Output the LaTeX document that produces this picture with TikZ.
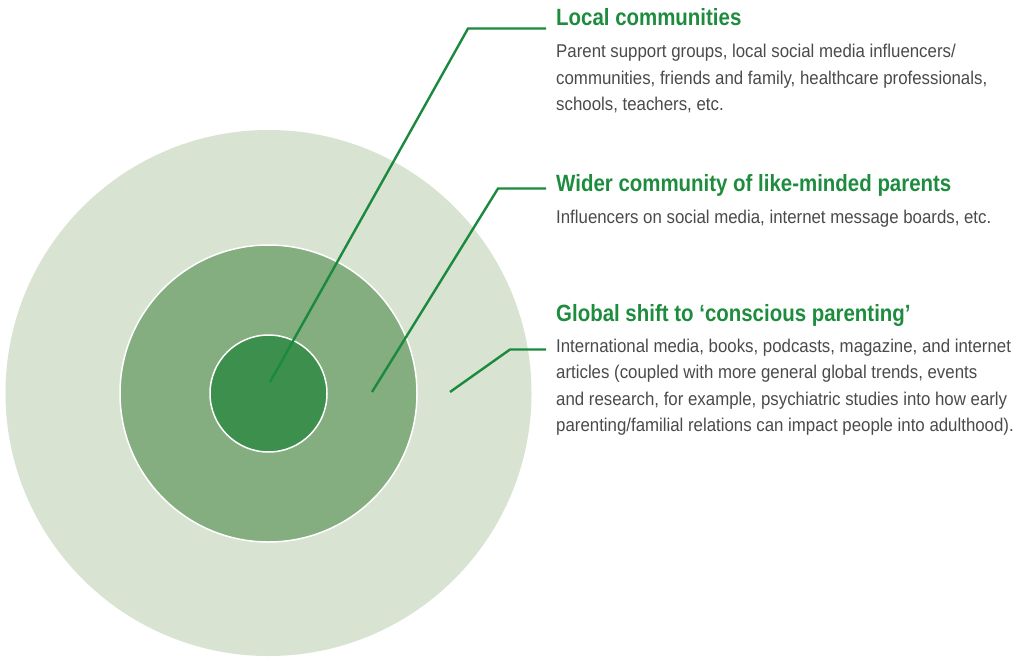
\documentclass[tikz,border=0pt]{standalone}
\usepackage{fontspec}
\setmainfont[FakeStretch=0.91]{Liberation Sans}
\newfontfamily\ttlfont[FakeStretch=0.87]{Liberation Sans}
\definecolor{outerc}{HTML}{D9E3D2}
\definecolor{midc}{HTML}{84AD80}
\definecolor{innerc}{HTML}{3C8F4D}
\definecolor{linec}{HTML}{1A8A3E}
\definecolor{titlec}{HTML}{1E8C3E}
\definecolor{bodyc}{HTML}{4A4A4A}
\begin{document}
\begin{tikzpicture}[x=1pt,y=-1pt,
  ring/.style={draw=white,line width=1.5pt},
  leader/.style={draw=linec,line width=2.4pt},
  ttl/.style={anchor=base west,inner sep=0pt,text=titlec,font=\ttlfont\fontsize{23.5}{28}\selectfont\bfseries},
  bdy/.style={anchor=base west,inner sep=0pt,text=bodyc,align=left,font=\fontsize{18.5}{26.5}\selectfont}]
\useasboundingbox (0,0) rectangle (1027,658);
\fill[outerc] (268.5,393) circle[radius=263pt];
\fill[midc,ring] (268.5,393.5) circle[radius=148.5pt];
\fill[innerc,ring] (268.5,393.5) circle[radius=58.5pt];
\coordinate (e1) at (270,382);
\coordinate (k1) at (468,28.5);
\coordinate (h1) at (546,28.5);
\coordinate (e2) at (372,392);
\coordinate (k2) at (498,188.5);
\coordinate (h2) at (546,188.5);
\coordinate (e3) at (450,392);
\coordinate (k3) at (510,349.5);
\coordinate (h3) at (546,349.5);
\draw[leader] (e1) -- (k1) -- (h1);
\draw[leader] (e2) -- (k2) -- (h2);
\draw[leader] (e3) -- (k3) -- (h3);
\node[ttl] (t1) at (556,26) {Local communities};
\node[bdy] (b1) at (556,110.5) {Parent support groups, local social media influencers/\\communities, friends and family, healthcare professionals,\\schools, teachers, etc.};
\node[ttl] (t2) at (556,191.5) {Wider community of like-minded parents};
\node[bdy] (b2) at (556,223) {Influencers on social media, internet message boards, etc.};
\node[ttl] (t3) at (556,321.5) {Global shift to ‘conscious parenting’};
\node[bdy] (b3) at (556,431.5) {International media, books, podcasts, magazine, and internet\\articles (coupled with more general global trends, events\\and research, for example, psychiatric studies into how early\\parenting/familial relations can impact people into adulthood).};
\end{tikzpicture}
\end{document}
